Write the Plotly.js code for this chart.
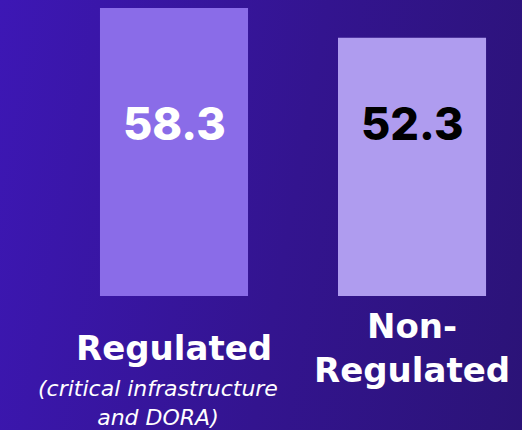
<!DOCTYPE html>
<html>
<head>
<meta charset="utf-8">
<script src="https://cdn.plot.ly/plotly-3.0.1.min.js"></script>
<style>
  html, body { margin:0; padding:0; width:522px; height:430px; overflow:hidden; }
  body { background: linear-gradient(100deg, #3d17b5 0%, #33148f 55%, #2b1377 100%); }
  #chart { width:522px; height:430px; }
</style>
</head>
<body>
<div id="chart"></div>
<script>
const categories = ["Regulated", "Non-Regulated"];
const values = [58.3, 52.3];
const labelLines = [["Regulated"], ["Non-", "Regulated"]];
const subLabelLines = [["(critical infrastructure", "and DORA)"], []];
const barColors = ["#8a6ce8", "#af9cef"];
const valueColors = ["#ffffff", "#000000"];

const NUMFONT = "Inter, sans-serif";
const LABFONT = "'DejaVu Sans', sans-serif";

const annotations = [];
categories.forEach((c, i) => {
  annotations.push({
    x: c, xref: 'x', y: 0.60, yref: 'paper', yanchor: 'middle',
    text: values[i].toFixed(1), showarrow: false,
    font: { family: NUMFONT, size: 45, color: valueColors[i], weight: 800 }
  });
  annotations.push({
    x: c, xref: 'x', y: -0.182, yref: 'paper', yanchor: 'middle',
    text: labelLines[i].join('<br>'), showarrow: false,
    font: { family: LABFONT, size: 34, color: '#ffffff', weight: 700 }
  });
  if (subLabelLines[i].length) {
    annotations.push({
      x: c, xref: 'x', y: -0.372, yref: 'paper', yanchor: 'middle', xshift: -16,
      text: subLabelLines[i].join('<br>'), showarrow: false, borderpad: 0,
      font: { family: LABFONT, size: 22, color: '#ffffff', style: 'italic' }
    });
  }
});

Plotly.newPlot('chart', [{
  type: 'bar', x: categories, y: values,
  marker: { color: barColors },
  hoverinfo: 'none'
}], {
  width: 522, height: 430,
  margin: { l: 0, r: 0, t: 8, b: 134 },
  paper_bgcolor: 'rgba(0,0,0,0)', plot_bgcolor: 'rgba(0,0,0,0)',
  bargap: 0.378,
  showlegend: false,
  xaxis: { type: 'category', range: [-0.731, 1.462], showticklabels: false, showgrid: false, zeroline: false, showline: false, fixedrange: true },
  yaxis: { range: [0, 58.3], showticklabels: false, showgrid: false, zeroline: false, showline: false, fixedrange: true },
  annotations: annotations
}, { displayModeBar: false, staticPlot: true });
</script>
</body>
</html>
